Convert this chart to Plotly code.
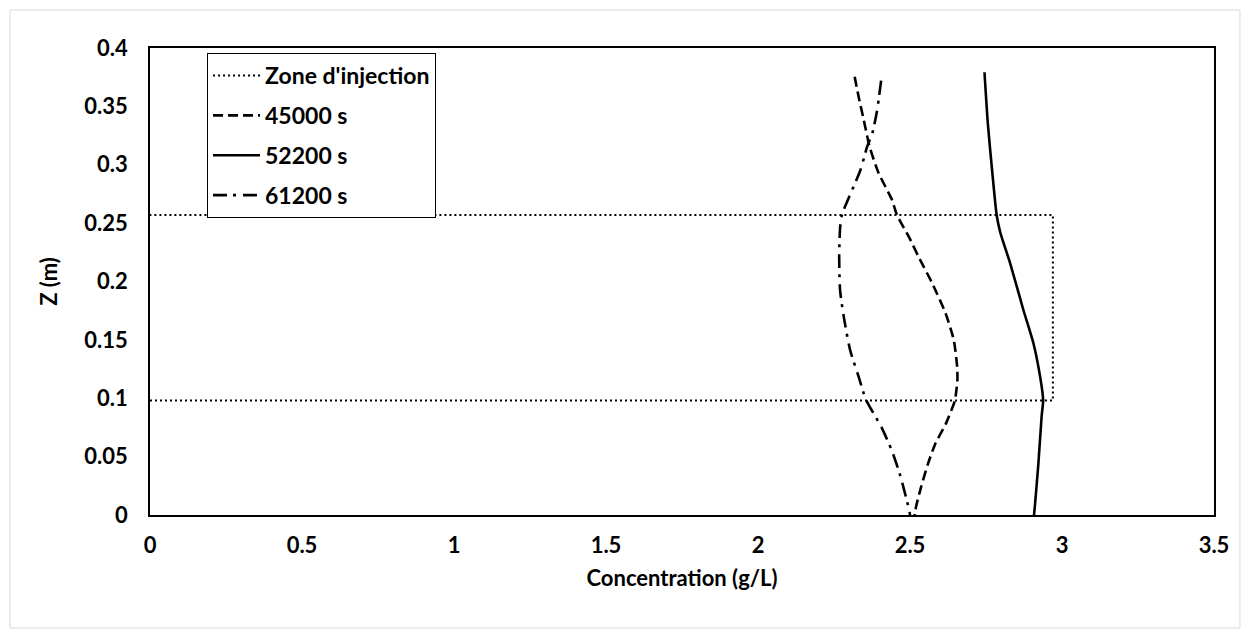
import plotly.graph_objects as go

# ---- data ----
zone_c = [0, 2.97, 2.97, 0]
zone_z = [0.098, 0.098, 0.257, 0.257]

t45000_c = [2.318, 2.331, 2.348, 2.367, 2.397, 2.441, 2.457, 2.496, 2.528, 2.573, 2.617, 2.644,
            2.655, 2.656, 2.650, 2.648, 2.617, 2.584, 2.558, 2.537, 2.521, 2.515]
t45000_z = [0.3754, 0.3583, 0.3383, 0.3155, 0.2927, 0.2698, 0.2570, 0.2384, 0.2212, 0.1985, 0.1728, 0.1499,
            0.1271, 0.1156, 0.1013, 0.0980, 0.0777, 0.0615, 0.0430, 0.0245, 0.0083, 0.0]

t52200_c = [2.745, 2.756, 2.771, 2.785, 2.797, 2.829, 2.873, 2.906, 2.928, 2.938, 2.933, 2.922,
            2.911, 2.908]
t52200_z = [0.3792, 0.3355, 0.2927, 0.2570, 0.2420, 0.2160, 0.1756, 0.1471, 0.1185, 0.0985, 0.0846, 0.0430,
            0.0083, 0.0]

t61200_c = [2.405, 2.391, 2.376, 2.359, 2.337, 2.298, 2.276, 2.270, 2.267, 2.270, 2.282, 2.303,
            2.331, 2.353, 2.365, 2.408, 2.441, 2.468, 2.489, 2.498, 2.500]
t61200_z = [0.3720, 0.3454, 0.3269, 0.3155, 0.2955, 0.2713, 0.2570, 0.2456, 0.2212, 0.1927, 0.1699, 0.1413,
            0.1185, 0.1000, 0.0939, 0.0742, 0.0546, 0.0338, 0.0129, 0.0037, 0.0]

x_title = "Concentration (g/L)"
y_title = "Z (m)"

FONT = "Lato"
fig = go.Figure()

fig.add_trace(go.Scatter(x=zone_c, y=zone_z, mode="lines", name="Zone d'injection",
                         legendgroup="a",
                         line=dict(color="black", width=2, dash="2px,3px")))
fig.add_trace(go.Scatter(x=t45000_c, y=t45000_z, mode="lines", name="45000 s",
                         legendgroup="b",
                         line=dict(color="black", width=2.6, dash="10px,5px", shape="spline", smoothing=0.6)))
fig.add_trace(go.Scatter(x=t52200_c, y=t52200_z, mode="lines", name="52200 s",
                         legendgroup="c",
                         line=dict(color="black", width=2.6, shape="spline", smoothing=0.6)))
fig.add_trace(go.Scatter(x=t61200_c, y=t61200_z, mode="lines", name="61200 s",
                         legendgroup="d",
                         line=dict(color="black", width=2.6, dash="14px,6px,3px,7px", shape="spline", smoothing=0.6)))

axis_font = dict(family=FONT, size=22, color="black", weight="bold")

fig.update_layout(
    width=1249, height=634,
    margin=dict(l=150, r=35, t=48, b=119),
    paper_bgcolor="white", plot_bgcolor="white",
    font=dict(family=FONT, size=22, color="black", weight="bold"),
    showlegend=True,
    legend=dict(x=0.0536, y=0.9893, xanchor="left", yanchor="top",
                bordercolor="black", borderwidth=1, bgcolor="white",
                font=dict(family=FONT, size=23, color="black", weight="bold"),
                tracegroupgap=7, traceorder="grouped", itemwidth=47),
    xaxis=dict(range=[0, 3.5], dtick=0.5, tick0=0, showgrid=False, zeroline=False,
               showline=True, linecolor="black", linewidth=1.5, mirror=True,
               ticks="", tickfont=axis_font, ticklabelstandoff=10,
               title=dict(text=x_title, font=axis_font, standoff=13)),
    yaxis=dict(range=[0, 0.4], dtick=0.05, tick0=0, showgrid=False, zeroline=False,
               showline=True, linecolor="black", linewidth=1.5, mirror=True,
               ticks="", tickfont=axis_font, ticklabelstandoff=16,
               title=dict(text=y_title, font=axis_font, standoff=21)),
    shapes=[dict(type="rect", xref="paper", yref="paper",
                 x0=-0.1316, x1=1.0244, y0=-0.242, y1=1.0814,
                 line=dict(color="#d9d9d9", width=1), fillcolor="rgba(0,0,0,0)", layer="below")],
)

fig.write_html("out.html")
